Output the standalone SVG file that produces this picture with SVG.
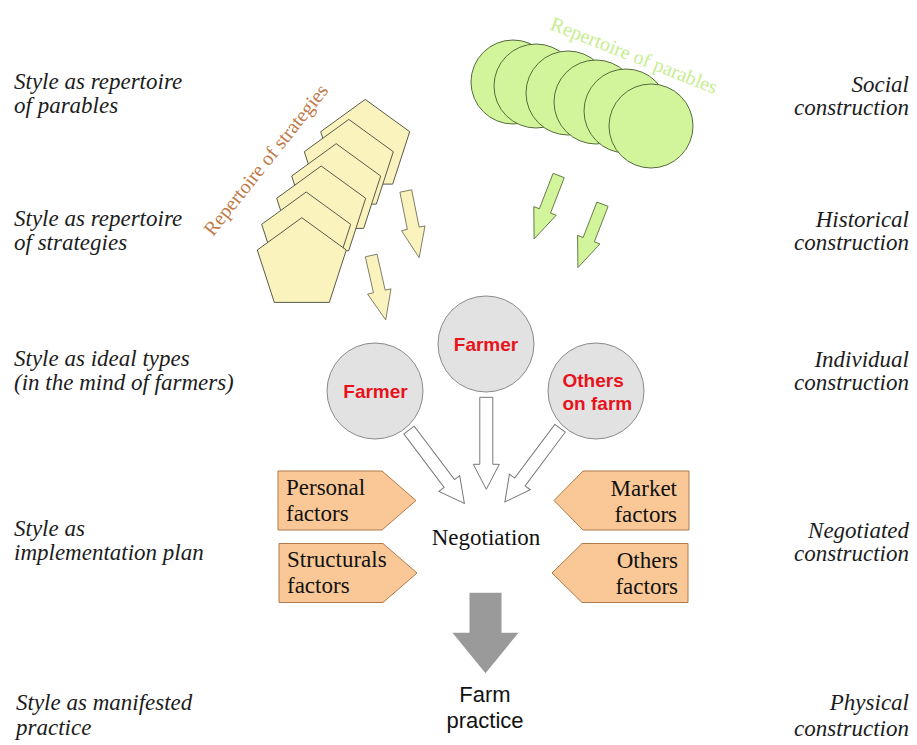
<svg xmlns="http://www.w3.org/2000/svg" xmlns:xlink="http://www.w3.org/1999/xlink" width="917" height="745" viewBox="0 0 917 745">
<style>
.lab{font-family:"Liberation Serif","Times New Roman",serif;font-style:italic;font-size:23px;fill:#1c1c1c}
.labR{font-family:"Liberation Serif","Times New Roman",serif;font-style:italic;font-size:23px;fill:#1c1c1c;text-anchor:end}
.tm{font-family:"Liberation Serif","Times New Roman",serif;font-size:23px;fill:#111}
.tmR{font-family:"Liberation Serif","Times New Roman",serif;font-size:23px;fill:#111;text-anchor:end}
.red{font-family:"Liberation Sans",Arial,sans-serif;font-weight:bold;font-size:19px;fill:#e8121c}
.sans{font-family:"Liberation Sans",Arial,sans-serif;font-size:22px;fill:#111;text-anchor:middle}
.pent{fill:#faf3be;stroke:#5a5a4a;stroke-width:1}
.gcirc{fill:#d2f59b;stroke:#556b3a;stroke-width:1}
.yarr{fill:#faf3be;stroke:#6a6a55;stroke-width:0.8}
.garr{fill:#d2f59b;stroke:#556b3a;stroke-width:0.8}
.warr{fill:#ffffff;stroke:#777;stroke-width:1}
.pers{fill:#fac896;stroke:#b07a4a;stroke-width:1}
.gray{fill:#e2e2e2;stroke:#8a8a8a;stroke-width:1}
</style>
<defs>
<polygon id="pg" points="0,-46.8 44.5,-14.5 27.5,37.9 -27.5,37.9 -44.5,-14.5"/>
<path id="sarr" d="M-6,0 L6,0 L6,38 L12,38 L0,68 L-12,38 L-6,38 Z"/>
<path id="warrow" d="M-6.5,0 L6.5,0 L6.5,67 L13,67 L0,92 L-13,67 L-6.5,67 Z"/>
</defs>
<rect width="917" height="745" fill="#ffffff"/>

<g id="labels-left">
<text class="lab" x="14" y="89">Style as repertoire</text>
<text class="lab" x="14" y="113">of parables</text>
<text class="lab" x="14" y="226">Style as repertoire</text>
<text class="lab" x="14" y="250">of strategies</text>
<text class="lab" x="14" y="366">Style as ideal types</text>
<text class="lab" x="14" y="390">(in the mind of farmers)</text>
<text class="lab" x="14" y="536">Style as</text>
<text class="lab" x="14" y="560">implementation plan</text>
<text class="lab" x="16" y="710">Style as manifested</text>
<text class="lab" x="16" y="735">practice</text>
</g>
<g id="labels-right">
<text class="labR" x="909" y="92">Social</text>
<text class="labR" x="909" y="115">construction</text>
<text class="labR" x="909" y="227">Historical</text>
<text class="labR" x="909" y="250">construction</text>
<text class="labR" x="909" y="367">Individual</text>
<text class="labR" x="909" y="390">construction</text>
<text class="labR" x="909" y="538">Negotiated</text>
<text class="labR" x="909" y="561">construction</text>
<text class="labR" x="909" y="710">Physical</text>
<text class="labR" x="909" y="736">construction</text>
</g>

<g id="strategies">
<use xlink:href="#pg" class="pent" x="365.2" y="146.2"/>
<use xlink:href="#pg" class="pent" x="348.8" y="166.2"/>
<use xlink:href="#pg" class="pent" x="336.2" y="190.5"/>
<use xlink:href="#pg" class="pent" x="321.2" y="212.8"/>
<use xlink:href="#pg" class="pent" x="306.2" y="238.8"/>
<use xlink:href="#pg" class="pent" x="301.8" y="264.5"/>
<text x="213" y="237" transform="rotate(-51.5 213 237)" style="font-family:'Liberation Serif','Times New Roman',serif;font-size:20px;fill:#c07a48">Repertoire of strategies</text>
</g>

<g id="parables">
<circle class="gcirc" cx="513" cy="82" r="42"/>
<circle class="gcirc" cx="536" cy="86" r="42"/>
<circle class="gcirc" cx="568" cy="93" r="42"/>
<circle class="gcirc" cx="596" cy="102" r="42"/>
<circle class="gcirc" cx="626" cy="111" r="42"/>
<circle class="gcirc" cx="651" cy="126" r="42"/>
<text x="549" y="29" transform="rotate(21.5 549 29)" style="font-family:'Liberation Serif','Times New Roman',serif;font-size:20px;fill:#c6ee8e">Repertoire of parables</text>
</g>

<g id="farmer-left">
<circle class="gray" cx="375" cy="391" r="48"/>
<text class="red" x="375.5" y="398" text-anchor="middle">Farmer</text>
</g>
<g id="farmer-middle">
<circle class="gray" cx="486" cy="344" r="48"/>
<text class="red" x="486" y="351" text-anchor="middle">Farmer</text>
</g>
<g id="others-on-farm">
<circle class="gray" cx="596" cy="391" r="48"/>
<text class="red" x="562.5" y="387">Others</text>
<text class="red" x="562.5" y="410">on farm</text>
</g>

<g id="personal-factors">
<polygon class="pers" points="278,471 382,471 416,500.5 382,530 278,530"/>
<text class="tm" x="286" y="495">Personal</text>
<text class="tm" x="286" y="521">factors</text>
</g>
<g id="structural-factors">
<polygon class="pers" points="279,543.5 383,543.5 417,573 383,602.5 279,602.5"/>
<text class="tm" x="287" y="567">Structurals</text>
<text class="tm" x="287" y="593">factors</text>
</g>
<g id="market-factors">
<polygon class="pers" points="689,471 583,471 554,500.5 583,530 689,530"/>
<text class="tmR" x="677" y="496">Market</text>
<text class="tmR" x="677" y="522">factors</text>
</g>
<g id="others-factors">
<polygon class="pers" points="688,543.5 582,543.5 552,573 582,602.5 688,602.5"/>
<text class="tmR" x="678" y="567.5">Others</text>
<text class="tmR" x="678" y="594">factors</text>
</g>

<g id="negotiation">
<text class="tm" x="486" y="545" text-anchor="middle">Negotiation</text>
</g>

<g id="farm-practice">
<text class="sans" x="485" y="702">Farm</text>
<text class="sans" x="485" y="727.5">practice</text>
</g>

<g id="connectors">
<use xlink:href="#sarr" class="yarr" transform="translate(405.8 191) rotate(-11.3)"/>
<use xlink:href="#sarr" class="yarr" transform="translate(371.2 255.5) rotate(-12.7) scale(1 0.97)"/>
<use xlink:href="#sarr" class="garr" transform="translate(558.7 175.5) rotate(21.2)"/>
<use xlink:href="#sarr" class="garr" transform="translate(602.5 204.2) rotate(21.2)"/>
<use xlink:href="#warrow" class="warr" transform="translate(409 430) rotate(-37)"/>
<use xlink:href="#warrow" class="warr" transform="translate(486.3 397.3)"/>
<use xlink:href="#warrow" class="warr" transform="translate(560 428.3) rotate(36.8)"/>
<polygon points="469.5,592.7 501.5,592.7 501.5,632.7 518.5,632.7 485.5,673.3 452.5,632.7 469.5,632.7" fill="#9a9a9a"/>
</g>
</svg>
